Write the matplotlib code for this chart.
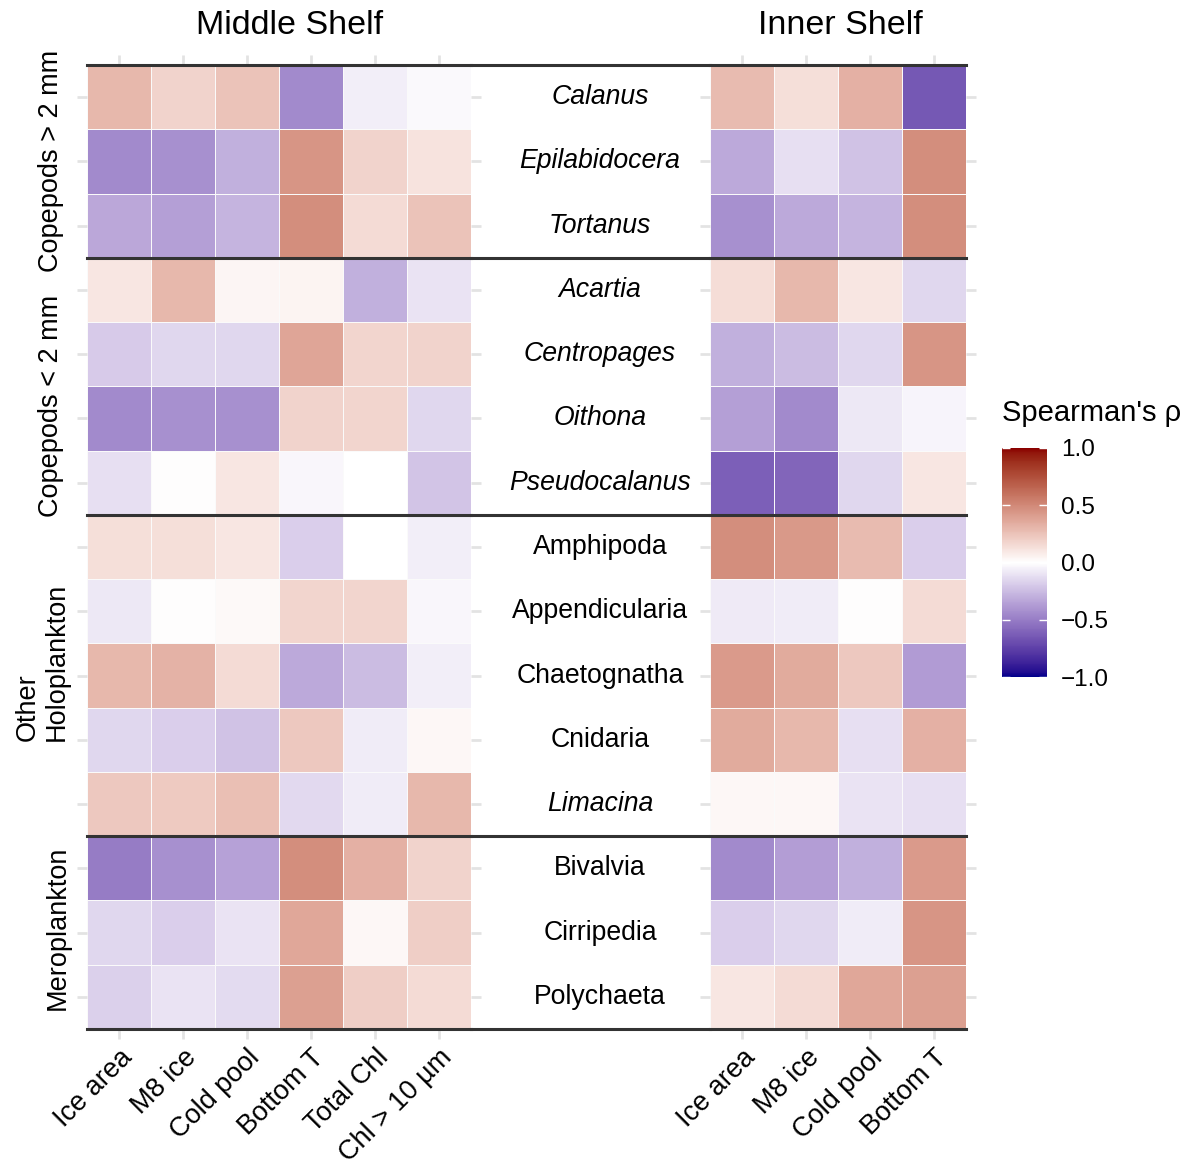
import numpy as np
import matplotlib
matplotlib.use("Agg")
import matplotlib.pyplot as plt
import matplotlib.transforms as mtransforms
from matplotlib.colors import ListedColormap, to_rgb

plt.rcParams["font.family"] = ["Liberation Sans", "DejaVu Sans"]

taxa = ["Calanus", "Epilabidocera", "Tortanus",
        "Acartia", "Centropages", "Oithona", "Pseudocalanus",
        "Amphipoda", "Appendicularia", "Chaetognatha", "Cnidaria", "Limacina",
        "Bivalvia", "Cirripedia", "Polychaeta"]
genera = ["Calanus", "Epilabidocera", "Tortanus", "Acartia", "Centropages",
          "Oithona", "Pseudocalanus", "Limacina"]

groups = ["Copepods > 2 mm", "Copepods < 2 mm", "Other\nHoloplankton", "Meroplankton"]
group_breaks = [0, 3, 7, 12, 15]

middle_vars = ["Ice area", "M8 ice", "Cold pool", "Bottom T", "Total Chl", "Chl > 10 µm"]
inner_vars = ["Ice area", "M8 ice", "Cold pool", "Bottom T"]

# Spearman's rho, middle shelf
middle_rho = [
    [0.30, 0.18, 0.25, -0.45, -0.06, -0.02],
    [-0.45, -0.42, -0.30, 0.45, 0.18, 0.12],
    [-0.33, -0.36, -0.28, 0.48, 0.15, 0.25],
    [0.10, 0.30, 0.04, 0.05, -0.30, -0.10],
    [-0.20, -0.15, -0.15, 0.38, 0.17, 0.18],
    [-0.45, -0.42, -0.42, 0.18, 0.17, -0.15],
    [-0.12, 0.01, 0.10, -0.03, 0.00, -0.22],
    [0.13, 0.13, 0.10, -0.18, 0.00, -0.06],
    [-0.09, 0.01, 0.02, 0.17, 0.17, -0.03],
    [0.30, 0.32, 0.15, -0.32, -0.25, -0.06],
    [-0.15, -0.18, -0.23, 0.23, -0.07, 0.03],
    [0.23, 0.22, 0.27, -0.14, -0.07, 0.30],
    [-0.50, -0.42, -0.35, 0.48, 0.33, 0.18],
    [-0.15, -0.18, -0.10, 0.37, 0.03, 0.20],
    [-0.17, -0.10, -0.13, 0.40, 0.20, 0.15],
]

# Spearman's rho, inner shelf
inner_rho = [
    [0.28, 0.13, 0.33, -0.65],
    [-0.32, -0.12, -0.23, 0.48],
    [-0.42, -0.32, -0.28, 0.48],
    [0.14, 0.30, 0.10, -0.15],
    [-0.30, -0.25, -0.15, 0.45],
    [-0.36, -0.45, -0.09, -0.04],
    [-0.62, -0.60, -0.15, 0.10],
    [0.48, 0.43, 0.28, -0.18],
    [-0.08, -0.07, 0.01, 0.15],
    [0.42, 0.35, 0.23, -0.38],
    [0.35, 0.30, -0.12, 0.33],
    [0.03, 0.03, -0.10, -0.12],
    [-0.45, -0.37, -0.30, 0.42],
    [-0.18, -0.15, -0.07, 0.45],
    [0.10, 0.15, 0.37, 0.40],
]


# diverging palette interpolated in CIE Lab (darkblue - white - darkred)
def rgb_to_lab(rgb):
    c = np.asarray(rgb, float)
    c = np.where(c > 0.04045, ((c + 0.055) / 1.055) ** 2.4, c / 12.92)
    m = np.array([[0.4124, 0.3576, 0.1805],
                  [0.2126, 0.7152, 0.0722],
                  [0.0193, 0.1192, 0.9505]])
    xyz = m @ c / np.array([0.95047, 1.0, 1.08883])
    f = np.where(xyz > 0.008856, np.cbrt(xyz), 7.787 * xyz + 16 / 116)
    return np.array([116 * f[1] - 16, 500 * (f[0] - f[1]), 200 * (f[1] - f[2])])


def lab_to_rgb(lab):
    L, a, b = lab
    fy = (L + 16) / 116
    f = np.array([fy + a / 500, fy, fy - b / 200])
    xyz = np.where(f ** 3 > 0.008856, f ** 3, (f - 16 / 116) / 7.787)
    xyz = xyz * np.array([0.95047, 1.0, 1.08883])
    m = np.array([[3.2406, -1.5372, -0.4986],
                  [-0.9689, 1.8758, 0.0415],
                  [0.0557, -0.2040, 1.0570]])
    c = m @ xyz
    c = np.where(c > 0.0031308, 1.055 * np.clip(c, 0, None) ** (1 / 2.4) - 0.055, 12.92 * c)
    return np.clip(c, 0, 1)


def lab_ramp(c1, c2, n):
    l1, l2 = rgb_to_lab(to_rgb(c1)), rgb_to_lab(to_rgb(c2))
    return [lab_to_rgb(l1 + (l2 - l1) * t) for t in np.linspace(0, 1, n)]


colours = lab_ramp("#00008B", "white", 128) + lab_ramp("white", "#8B0000", 128)[1:]
rho_cmap = ListedColormap(colours)

W, H = 1188, 1171
fig = plt.figure(figsize=(W / 100, H / 100), dpi=100)


def px_axes(x0, x1, y0, y1):
    return fig.add_axes([x0 / W, 1 - y1 / H, (x1 - x0) / W, (y1 - y0) / H])


ax_mid = px_axes(87, 471, 65, 1029)
ax_lab = px_axes(471, 710, 65, 1029)
ax_in = px_axes(710, 966, 65, 1029)

n = len(taxa)
tick_grey = "#E3E3E3"
for ax, vals, names in [(ax_mid, middle_rho, middle_vars), (ax_in, inner_rho, inner_vars)]:
    ax.pcolormesh(np.arange(len(names) + 1), np.arange(n + 1), np.array(vals),
                  cmap=rho_cmap, vmin=-1, vmax=1, edgecolors="#FAFAFA", linewidth=0.5)
    ax.set_xlim(0, len(names))
    ax.set_ylim(n, 0)
    ax.set_xticks(np.arange(len(names)) + 0.5)
    ax.set_xticklabels(names, rotation=45, ha="right", rotation_mode="anchor", fontsize=19.5)
    # nudge the slanted labels a little right and down
    shift = mtransforms.ScaledTranslation(5 / 100, -3 / 100, fig.dpi_scale_trans)
    for lab in ax.get_xticklabels():
        lab.set_transform(lab.get_transform() + shift)
    ax.set_yticks(np.arange(n) + 0.5)
    ax.set_yticklabels([])
    ax.tick_params(axis="both", which="both", direction="out", length=7, width=2,
                   color=tick_grey, top=True, bottom=True, left=True, right=True, pad=4)
    for s in ax.spines.values():
        s.set_visible(False)

# species names in the centre column
ax_lab.set_xlim(0, 1)
ax_lab.set_ylim(n, 0)
ax_lab.axis("off")
for i, name in enumerate(taxa):
    style = "italic" if name in genera else "normal"
    fig.text(600 / W, 1 - (65 + (i + 0.5) * 964 / n) / H, name, ha="center", va="center",
             fontsize=19.2, style=style)

# group separators across all three panels
for ax in [ax_mid, ax_lab, ax_in]:
    for b in group_breaks:
        ax.axhline(b, color="#333333", lw=2.2, clip_on=False, zorder=5)

# group labels on the left
fig.text(51 / W, 1 - 161 / H, groups[0], rotation=90, ha="center", va="center", fontsize=19.5)
fig.text(51 / W, 1 - 406 / H, groups[1], rotation=90, ha="center", va="center", fontsize=19.5)
fig.text(42 / W, 1 - 662 / H, groups[2], rotation=90, ha="center", va="center",
         multialignment="left", fontsize=19.5, linespacing=1.15)
fig.text(58 / W, 1 - 928 / H, groups[3], rotation=90, ha="center", va="center", fontsize=19.5)

# panel titles
fig.text(290 / W, 1 - 26 / H, "Middle Shelf", ha="center", va="center", fontsize=24.5)
fig.text(840 / W, 1 - 26 / H, "Inner Shelf", ha="center", va="center", fontsize=24.5)

# colour bar
cax = px_axes(1002, 1047, 448, 677)
sm = plt.cm.ScalarMappable(cmap=rho_cmap, norm=plt.Normalize(-1, 1))
cb = fig.colorbar(sm, cax=cax, ticks=[-1, -0.5, 0, 0.5, 1])
cb.outline.set_visible(False)
cb.ax.set_yticklabels(["\u22121.0", "\u22120.5", "0.0", "0.5", "1.0"], fontsize=17.5)
cb.ax.tick_params(direction="in", length=6, width=1, color="white",
                  left=True, right=True, labelleft=False, labelright=True, pad=10)
fig.text(1002 / W, 1 - 413 / H, "Spearman's \u03c1", ha="left", va="center", fontsize=21)

fig.savefig("out.png", dpi=100, facecolor="white")
